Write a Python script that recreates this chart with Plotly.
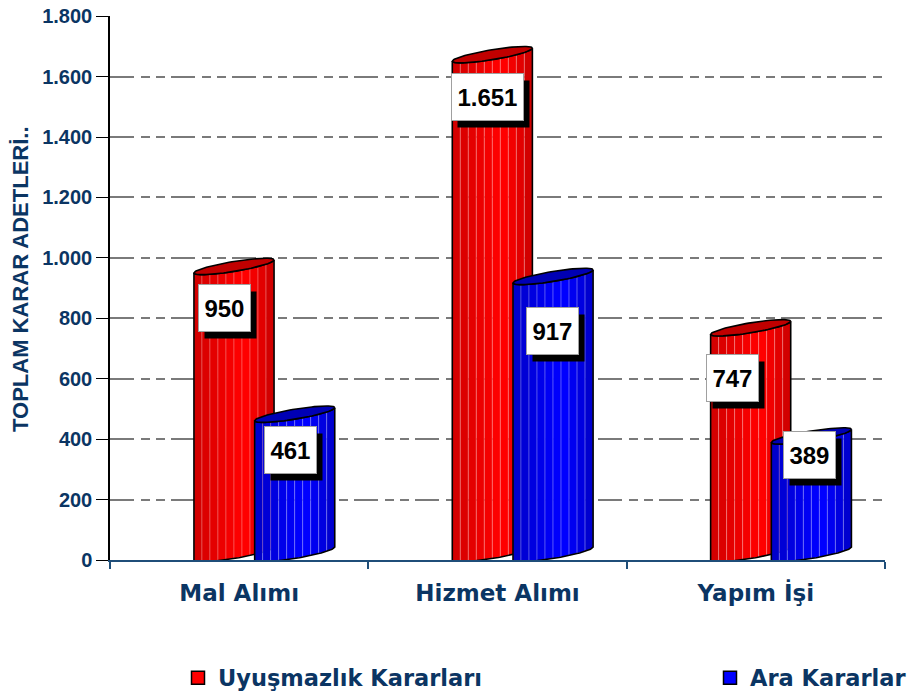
import numpy as np
import plotly.graph_objects as go

# ---------------- data ----------------
categories = ["Mal Alımı", "Hizmet Alımı", "Yapım İşi"]
uyusmazlik_kararlari = [950, 1651, 747]
ara_kararlar = [461, 917, 389]
series_names = ["Uyuşmazlık Kararları", "Ara Kararlar"]
y_tick_values = [0, 200, 400, 600, 800, 1000, 1200, 1400, 1600, 1800]
y_title = "TOPLAM KARAR ADETLERİ.."

# ---------------- style ----------------
PAGE_PAD = 8                   # default body margin of the html page
W, H = 915 - PAGE_PAD, 697 - PAGE_PAD
ML, MR, MT, MB = 110 - PAGE_PAD, 30, 16 - PAGE_PAD, 137
YMAX = 1800
Y_TOP = YMAX + 0.5             # tiny headroom so the top tick is kept
PLOT_W = W - ML - MR
PLOT_H = H - MT - MB
UPP = Y_TOP / PLOT_H           # data units per pixel (y)
SHEAR = 13 * UPP               # perspective slant of the cylinders
CAPB = 5 * UPP                 # half thickness of the elliptical cap
HALF_W = 0.155                 # half width of a cylinder (x units)
OFFSETS = [-0.02, 0.215]       # cylinder centre offsets per series
NAVY = "#0b3563"
ARIAL = "Liberation Sans, Arial, sans-serif"
WIDE = "DejaVu Sans, Verdana, sans-serif"

red_shades = ["#d40000", "#dc0000", "#e40000", "#ec0000", "#f40000",
              "#fc0000", "#ff0000", "#f20000", "#e20000", "#d20000"]
blue_shades = ["#0000cc", "#0000d6", "#0000e0", "#0000ea", "#0000f4",
               "#0000fc", "#0000ff", "#0000f0", "#0000e0", "#0000d0"]
series_styles = [
    dict(shades=red_shades, cap="#c00000", stripe="rgba(255,215,215,0.35)", legend="#ff0000"),
    dict(shades=blue_shades, cap="#0000b4", stripe="rgba(210,210,255,0.35)", legend="#0000ff"),
]
# label offsets in pixels (x shift from category centre, drop below value)
label_dx = [[-15, -10, -23], [51, 55, 54]]
label_dy = [[35, 36, 44], [29, 48, 13]]
# legend left edges (screen px)
legend_left = [178, 710]
legend_x = [(v - PAGE_PAD - ML) / PLOT_W for v in legend_left]
legend_y = -(678 - 560) / PLOT_H
title_cx, title_cy = 20, 279   # screen px


def y_top(v, u):
    return v + SHEAR / 2 * (1 + u) - CAPB * np.sqrt(np.clip(1 - u ** 2, 0, None))


def y_bot(u):
    return SHEAR / 2 * (1 + u) - CAPB * np.sqrt(np.clip(1 - u ** 2, 0, None))


def cylinder(xc, v, st):
    traces = []
    shades = st["shades"]
    n = len(shades)
    edges = np.linspace(-1, 1, n + 1)
    for i in range(n):
        u = np.linspace(edges[i], edges[i + 1], 8)
        xs = np.concatenate([xc + HALF_W * u, (xc + HALF_W * u)[::-1]])
        ys = np.concatenate([y_top(v, u), y_bot(u)[::-1]])
        traces.append(go.Scatter(
            x=np.append(xs, xs[0]), y=np.append(ys, ys[0]), mode="lines",
            fill="toself", fillcolor=shades[i],
            line=dict(color=st["stripe"], width=0.8),
            hoverinfo="skip", showlegend=False))
    u = np.linspace(-1, 1, 60)
    ox = np.concatenate([[xc - HALF_W], xc + HALF_W * u, (xc + HALF_W * u)[::-1]])
    oy = np.concatenate([[y_bot(-1.0)], y_top(v, u), y_bot(u)[::-1]])
    traces.append(go.Scatter(x=ox, y=oy, mode="lines",
                             line=dict(color="black", width=1.6),
                             hoverinfo="skip", showlegend=False))
    t = np.linspace(0, 2 * np.pi, 90)
    cx = xc + HALF_W * np.cos(t)
    cy = v + SHEAR / 2 * (1 + np.cos(t)) + CAPB * np.sin(t)
    traces.append(go.Scatter(x=cx, y=cy, mode="lines", fill="toself",
                             fillcolor=st["cap"],
                             line=dict(color="black", width=1.6),
                             hoverinfo="skip", showlegend=False))
    return traces


fig = go.Figure()
series = [uyusmazlik_kararlari, ara_kararlar]
for ci, cat in enumerate(categories):
    for si, vals in enumerate(series):
        for tr in cylinder(ci + OFFSETS[si], vals[ci], series_styles[si]):
            fig.add_trace(tr)

legend_ids = ["legend", "legend2"]
for si, name in enumerate(series_names):
    fig.add_trace(go.Scatter(
        x=[None], y=[None], mode="markers", name=name, legend=legend_ids[si],
        marker=dict(symbol="square", size=13, color=series_styles[si]["legend"],
                    line=dict(color="black", width=1.5))))


def fmt(v):
    return f"{v:,}".replace(",", ".")


def box_width(s):
    return sum(13.3 if c.isdigit() else 6.7 for c in s) + 9


annotations = []
for si, vals in enumerate(series):
    for ci, v in enumerate(vals):
        txt = fmt(v)
        bw = box_width(txt)
        common = dict(x=ci, y=v, xref="x", yref="y", showarrow=False,
                      width=bw, height=44, xanchor="center", yanchor="middle")
        annotations.append(dict(common, text="&nbsp;", bgcolor="black",
                                font=dict(family=ARIAL, size=24, color="black"),
                                xshift=label_dx[si][ci] + 6,
                                yshift=-label_dy[si][ci] - 7))
        annotations.append(dict(common, text="<b>" + txt + "</b>", bgcolor="white",
                                bordercolor="#a0a0a0", borderwidth=1,
                                font=dict(family=ARIAL, size=24, color="black"),
                                xshift=label_dx[si][ci],
                                yshift=-label_dy[si][ci]))

annotations.append(dict(text="<b>" + y_title + "</b>", xref="paper", yref="paper",
                        x=(title_cx - PAGE_PAD - ML) / PLOT_W,
                        y=(H - MB - (title_cy - PAGE_PAD)) / PLOT_H,
                        xanchor="center", yanchor="middle", textangle=-90,
                        showarrow=False,
                        font=dict(family=ARIAL, size=22, color=NAVY)))

legend_style = dict(orientation="h", xanchor="left", y=legend_y, yanchor="middle",
                    font=dict(family=WIDE, size=22.5, color=NAVY, weight="bold"),
                    bgcolor="rgba(0,0,0,0)")

fig.update_layout(
    width=W, height=H,
    margin=dict(l=ML, r=MR, t=MT, b=MB, autoexpand=False),
    paper_bgcolor="white", plot_bgcolor="white",
    separators=",.",
    showlegend=True,
    legend=dict(legend_style, x=legend_x[0]),
    legend2=dict(legend_style, x=legend_x[1]),
    annotations=annotations,
    xaxis=dict(range=[-0.5, 2.5], tickvals=[0, 1, 2], ticktext=categories,
               ticks="", showgrid=False, zeroline=False, automargin=False,
               showline=True, linecolor="#1f4e79", linewidth=1.5,
               ticklabelstandoff=12,
               tickfont=dict(family=WIDE, size=23, color=NAVY, weight="bold"),
               minor=dict(tickvals=[-0.5, 0.5, 1.5, 2.5], ticks="outside",
                          ticklen=7, tickwidth=1.5, tickcolor="#1f4e79",
                          showgrid=False)),
    yaxis=dict(range=[0, Y_TOP], tickvals=y_tick_values, tickformat=",d",
               ticks="outside", ticklen=12, tickwidth=1.2, tickcolor="black",
               ticklabeloverflow="allow",
               showline=True, linecolor="black", linewidth=1.5, automargin=False,
               showgrid=True, gridcolor="#7a7a7a", gridwidth=1.5,
               griddash="24px,7px,9px,6px,9px,6px",
               zeroline=False,
               tickfont=dict(family=ARIAL, size=20, color=NAVY, weight="bold")),
)

fig.write_html("out.html")
